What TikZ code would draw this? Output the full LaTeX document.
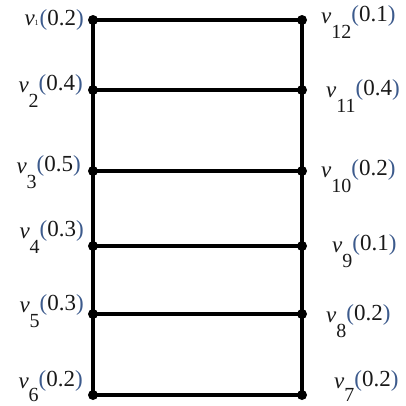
\documentclass[tikz,border=0pt]{standalone}
\usepackage{fontspec}
\setmainfont{Liberation Serif}
\definecolor{parcol}{RGB}{60,90,140}
\definecolor{txtcol}{RGB}{25,25,25}
\newcommand{\vlab}[3][-15pt]{\fontsize{23}{23}\selectfont\textit{v}\raisebox{#1}{\fontsize{20}{20}\selectfont #2}\raisebox{2pt}{\textcolor{parcol}{(}#3\textcolor{parcol}{)}}}
\newcommand{\vlabone}[1]{\fontsize{23}{23}\selectfont\textit{v}\raisebox{0pt}{\fontsize{8}{8}\selectfont 1}\hspace{1pt}\raisebox{0pt}{\textcolor{parcol}{(}#1\textcolor{parcol}{)}}}
\tikzset{
  vert/.style={circle,fill=black,inner sep=0pt,minimum size=10pt},
  edge/.style={line width=3.5pt,line cap=round},
  lbl/.style={inner sep=0pt,text=txtcol}
}
\begin{document}
\begin{tikzpicture}[x=1pt,y=-1pt]
\useasboundingbox (0,0) rectangle (406,405);
% left vertices
\node[vert] (v1) at (93,20) {};
\node[vert] (v2) at (93,90) {};
\node[vert] (v3) at (93,171) {};
\node[vert] (v4) at (93,246) {};
\node[vert] (v5) at (93,314) {};
\node[vert] (v6) at (93,395) {};
% right vertices
\node[vert] (v12) at (302,20) {};
\node[vert] (v11) at (302,90) {};
\node[vert] (v10) at (302,171) {};
\node[vert] (v9) at (302,246) {};
\node[vert] (v8) at (302,314) {};
\node[vert] (v7) at (302,395) {};
% edges
\draw[edge] (v1.center) -- (v2.center) -- (v3.center) -- (v4.center) -- (v5.center) -- (v6.center);
\draw[edge] (v12.center) -- (v11.center) -- (v10.center) -- (v9.center) -- (v8.center) -- (v7.center);
\draw[edge] (v1.center) -- (v12.center);
\draw[edge] (v2.center) -- (v11.center);
\draw[edge] (v3.center) -- (v10.center);
\draw[edge] (v4.center) -- (v9.center);
\draw[edge] (v5.center) -- (v8.center);
\draw[edge] (v6.center) -- (v7.center);
% labels left
\node[lbl,anchor=base east] (l1) at (84,25) {\vlabone{0.2}};
\node[lbl,anchor=base east] (l2) at (83,92) {\vlab{2}{0.4}};
\node[lbl,anchor=base east] (l3) at (81,173) {\vlab{3}{0.5}};
\node[lbl,anchor=base east] (l4) at (84,238) {\vlab{4}{0.3}};
\node[lbl,anchor=base east] (l5) at (84,312) {\vlab{5}{0.3}};
\node[lbl,anchor=base east] (l6) at (83,388) {\vlab[-13pt]{6}{0.2}};
% labels right
\node[lbl,anchor=base west] (l12) at (321,23) {\vlab{12}{0.1}};
\node[lbl,anchor=base west] (l11) at (326,97) {\vlab{11}{0.4}};
\node[lbl,anchor=base west] (l10) at (321,177) {\vlab{10}{0.2}};
\node[lbl,anchor=base west] (l9) at (332,252) {\vlab{9}{0.1}};
\node[lbl,anchor=base west] (l8) at (326,322) {\vlab{8}{0.2}};
\node[lbl,anchor=base west] (l7) at (334,388) {\vlab[-13pt]{7}{0.2}};
\end{tikzpicture}
\end{document}
